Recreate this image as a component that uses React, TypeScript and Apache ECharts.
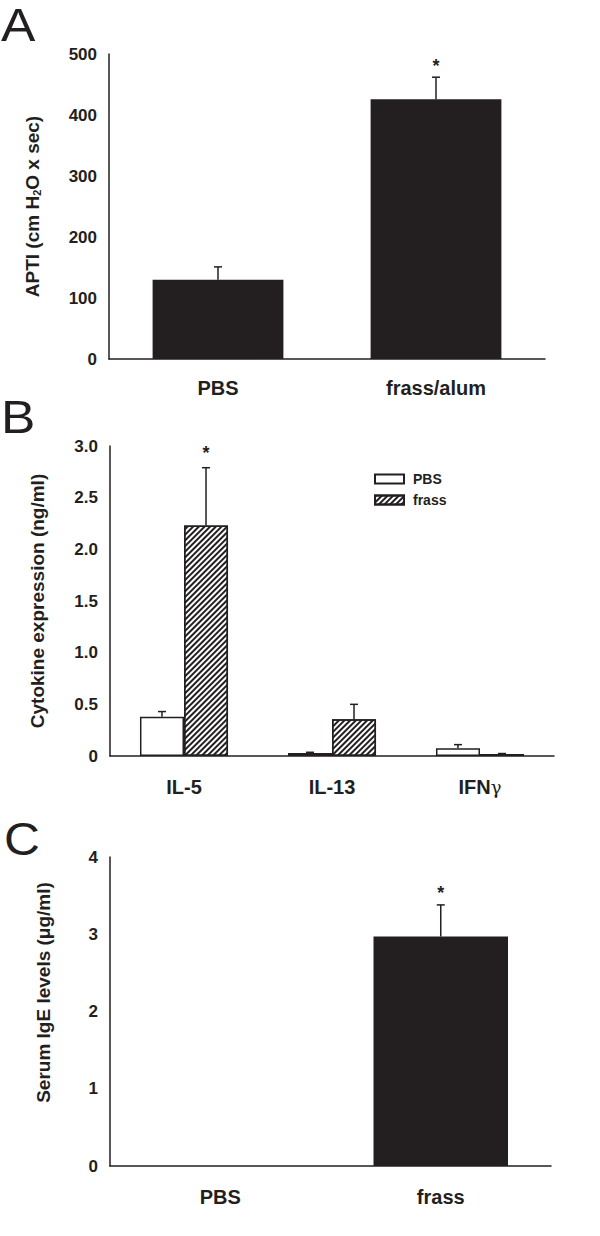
import React, { useEffect, useRef } from 'react';
import * as echarts from 'echarts';

const FONT = '"Liberation Sans", Arial, Helvetica, sans-serif';
const INK = '#231f20';

// Panel A
const catsA = ['PBS', 'frass/alum'];
const valsA = [130, 426];
const semA = [21, 36];
const sigA = [0, 1];

// Panel B
const catsB = ['IL-5', 'IL-13', 'IFNγ'];
const seriesNamesB = ['PBS', 'frass'];
const pbsB = [0.38, 0.03, 0.075];
const pbsSemB = [0.05, 0.006, 0.035];
const frassB = [2.23, 0.355, 0.02];
const frassSemB = [0.56, 0.145, 0.004];
const sigPbsB = [0, 0, 0];
const sigFrassB = [1, 0, 0];

// Panel C
const catsC = ['PBS', 'frass'];
const valsC = [0, 2.97];
const semC = [0, 0.41];
const sigC = [0, 1];

function errRender(nBars: number, idx: number, groupFrac: number, starGap: number) {
  return (params: any, api: any) => {
    const cat = api.value(0);
    const v = api.value(1);
    const top = api.value(2);
    const sig = api.value(3);
    const base = api.coord([cat, v]);
    const tip = api.coord([cat, top]);
    const band = api.size([1, 0])[0];
    const total = band * groupFrac;
    const w = total / nBars;
    const x = base[0] - total / 2 + w * (idx + 0.5);
    const children: any[] = [];
    if (top > v) {
      children.push({
        type: 'line',
        shape: { x1: x, y1: base[1], x2: x, y2: tip[1] },
        style: { stroke: INK, lineWidth: 1.5 },
      });
      children.push({
        type: 'line',
        shape: { x1: x - 4, y1: tip[1], x2: x + 4, y2: tip[1] },
        style: { stroke: INK, lineWidth: 1.5 },
      });
    }
    if (sig) {
      children.push({
        type: 'text',
        x,
        y: tip[1] - starGap,
        style: {
          text: '*',
          fontSize: 18,
          fontWeight: 'bold',
          fontFamily: FONT,
          fill: INK,
          align: 'center',
          verticalAlign: 'middle',
        },
      });
    }
    return { type: 'group', children };
  };
}

function errData(vals: number[], sems: number[], sigs: number[]) {
  return vals.map((v, i) => [i, v, v + sems[i], sigs[i]]);
}

const axisLineStyle = { show: true, lineStyle: { color: INK, width: 1.5 } };
const tickLabel = { color: INK, fontSize: 17, fontWeight: 'bold' as const, fontFamily: FONT, margin: 12 };
const catLabel = { color: INK, fontSize: 20, fontWeight: 'bold' as const, fontFamily: FONT };
const nameStyle = { color: INK, fontSize: 19, fontWeight: 'bold' as const, fontFamily: FONT };

const hatch = {
  symbol: 'rect',
  symbolSize: 1,
  color: INK,
  dashArrayX: [1, 0],
  dashArrayY: [2, 2],
  rotation: -Math.PI / 4,
};

const letterStyle = { fontSize: 46, fontFamily: FONT, fill: INK, textVerticalAlign: 'top' };

export default function App() {
  const ref = useRef<HTMLDivElement>(null);
  useEffect(() => {
    document.body.style.margin = '0';
    if (!ref.current) return;
    const chart = echarts.init(ref.current, null, { renderer: 'svg' });
    const option: any = {
      animation: false,
      backgroundColor: '#fff',
      grid: [
        { left: 109, top: 54, width: 436, height: 305, outerBoundsMode: 'none', containLabel: false },
        { left: 110, top: 446, width: 444, height: 310, outerBoundsMode: 'none', containLabel: false },
        { left: 110, top: 857, width: 441, height: 309, outerBoundsMode: 'none', containLabel: false },
      ],
      legend: {
        data: seriesNamesB,
        orient: 'vertical',
        left: 369,
        top: 467,
        icon: 'rect',
        itemWidth: 29,
        itemHeight: 9,
        itemGap: 7,
        textStyle: { color: INK, fontSize: 14, fontWeight: 'bold', fontFamily: FONT, padding: [0, 0, 0, 4] },
      },
      xAxis: [
        {
          type: 'category', gridIndex: 0, data: catsA,
          axisLine: axisLineStyle, axisTick: { show: false },
          axisLabel: { ...catLabel, margin: 19 },
        },
        {
          type: 'category', gridIndex: 1, data: catsB,
          axisLine: axisLineStyle, axisTick: { show: false },
          axisLabel: {
            ...catLabel, margin: 21,
            formatter: (v: string) => (v === 'IFNγ' ? 'IFN{g|γ}' : v),
            rich: { g: { fontFamily: '"DejaVu Serif", "Liberation Serif", serif', fontWeight: 'normal', fontSize: 18, color: INK } },
          },
        },
        {
          type: 'category', gridIndex: 2, data: catsC,
          axisLine: axisLineStyle, axisTick: { show: false },
          axisLabel: { ...catLabel, margin: 21 },
        },
      ],
      yAxis: [
        {
          type: 'value', gridIndex: 0, min: 0, max: 500, interval: 100,
          axisLine: axisLineStyle, axisTick: { show: false }, splitLine: { show: false },
          axisLabel: tickLabel,
          name: 'APTI (cm H{sub|2}O x sec)', nameLocation: 'middle', nameGap: 67,
          nameTextStyle: { ...nameStyle, rich: { sub: { fontSize: 11, fontWeight: 'bold', fontFamily: FONT, color: INK, verticalAlign: 'bottom', padding: [8, 0, 0, 0] } } },
        },
        {
          type: 'value', gridIndex: 1, min: 0, max: 3, interval: 0.5,
          axisLine: axisLineStyle, axisTick: { show: false }, splitLine: { show: false },
          axisLabel: { ...tickLabel, formatter: (v: number) => (v === 0 ? '0' : v.toFixed(1)) },
          name: 'Cytokine expression (ng/ml)', nameLocation: 'middle', nameGap: 63,
          nameTextStyle: nameStyle,
        },
        {
          type: 'value', gridIndex: 2, min: 0, max: 4, interval: 1,
          axisLine: axisLineStyle, axisTick: { show: false }, splitLine: { show: false },
          axisLabel: tickLabel,
          name: 'Serum IgE levels (μg/ml)', nameLocation: 'middle', nameGap: 57,
          nameTextStyle: { ...nameStyle, padding: [0, 0, 0, 38] },
        },
      ],
      series: [
        {
          type: 'bar', xAxisIndex: 0, yAxisIndex: 0, data: valsA, barWidth: '60%',
          itemStyle: { color: INK },
        },
        {
          type: 'custom', xAxisIndex: 0, yAxisIndex: 0, z: 5,
          renderItem: errRender(1, 0, 0.6, 11),
          data: errData(valsA, semA, sigA),
        },
        {
          name: 'PBS', type: 'bar', xAxisIndex: 1, yAxisIndex: 1, data: pbsB,
          barGap: '0%', barCategoryGap: '40.5%',
          itemStyle: { color: '#ffffff', borderColor: INK, borderWidth: 1.5 },
        },
        {
          name: 'frass', type: 'bar', xAxisIndex: 1, yAxisIndex: 1, data: frassB,
          barGap: '0%', barCategoryGap: '40.5%',
          itemStyle: { color: '#ffffff', borderColor: INK, borderWidth: 1.5, decal: hatch },
        },
        {
          type: 'custom', xAxisIndex: 1, yAxisIndex: 1, z: 5,
          renderItem: errRender(2, 0, 0.595, 15),
          data: errData(pbsB, pbsSemB, sigPbsB),
        },
        {
          type: 'custom', xAxisIndex: 1, yAxisIndex: 1, z: 5,
          renderItem: errRender(2, 1, 0.595, 15),
          data: errData(frassB, frassSemB, sigFrassB),
        },
        {
          type: 'bar', xAxisIndex: 2, yAxisIndex: 2, data: valsC, barWidth: '61%',
          itemStyle: { color: INK },
        },
        {
          type: 'custom', xAxisIndex: 2, yAxisIndex: 2, z: 5,
          renderItem: errRender(1, 0, 0.61, 12),
          data: errData(valsC, semC, sigC),
        },
      ],
      graphic: [
        { type: 'text', x: 1, y: 2, scaleX: 1.12, style: { ...letterStyle, text: 'A' } },
        { type: 'text', x: 1, y: 394, scaleX: 1.12, style: { ...letterStyle, text: 'B' } },
        { type: 'text', x: 4, y: 816, scaleX: 1.08, style: { ...letterStyle, text: 'C' } },
      ],
    };
    chart.setOption(option);
    return () => chart.dispose();
  }, []);
  return <div ref={ref} style={{ width: 600, height: 1236 }} />;
}
